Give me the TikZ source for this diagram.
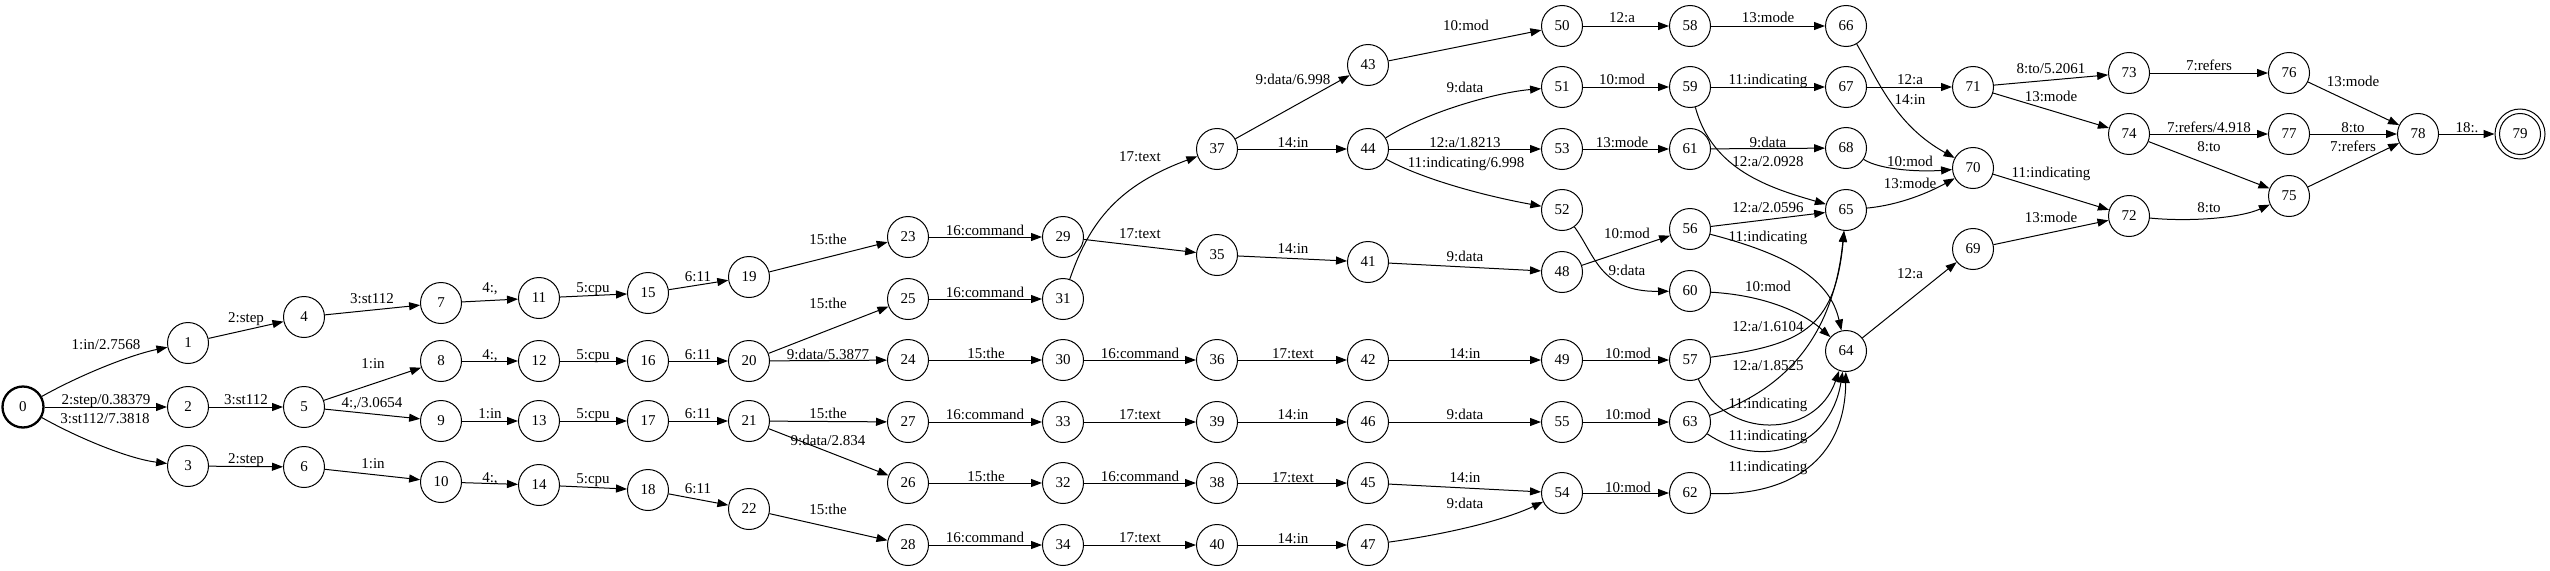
\documentclass[tikz,border=0pt]{standalone}
\usepackage{fontspec}
\setmainfont{Liberation Serif}
\usetikzlibrary{arrows.meta}
\begin{document}
\begin{tikzpicture}[x=1pt,y=-1pt,
  st/.style={circle,draw,line width=1pt,minimum size=41pt,inner sep=0pt,font=\fontsize{15}{18}\selectfont},
  edg/.style={line width=1pt,-{Triangle[length=11pt,width=8pt]}},
  lbl/.style={anchor=base,inner sep=0pt,font=\fontsize{15}{18}\selectfont}]
\useasboundingbox (0,0) rectangle (2550,570);
% states
\node[st,line width=2.3pt] (0) at (23,407) {0};
\foreach \n/\x/\y in {1/188/343,2/188/407,3/188/466,4/304/317,5/304/407,6/304/467,
  7/441/303,8/441/361,9/441/421,10/441/482,11/539/298,12/539/361,13/539/421,14/539/485,
  15/648/293,16/648/361,17/648/421,18/648/490,19/749/277,20/749/361,21/749/421,22/749/509,
  23/908/237,25/908/299,24/908/360,27/908/422,26/908/483,28/908/545,
  29/1063/237,31/1063/299,30/1063/360,33/1063/422,32/1063/483,34/1063/545,
  37/1217/149,35/1217/255,36/1217/360,39/1217/422,38/1217/483,40/1217/545,
  43/1368/65,44/1368/149,41/1368/262,42/1368/360,46/1368/422,45/1368/483,47/1368/545,
  50/1562/26,51/1562/87,53/1562/149,52/1562/210,48/1562/272,49/1562/360,55/1562/422,54/1562/493,
  58/1690/26,59/1690/87,61/1690/149,56/1690/229,60/1690/291,57/1690/360,63/1690/422,62/1690/493,
  66/1846/26,67/1846/87,68/1846/148,65/1846/210,64/1846/351,
  71/1973/87,70/1973/168,69/1973/249,73/2129/73,74/2129/134,72/2129/216,
  76/2289/73,77/2289/134,75/2289/196,78/2418/134}
  \node[st] (\n) at (\x,\y) {\n};
\node[st,minimum size=50pt] (79) at (2520,134) {79};
\draw[line width=1pt] (79.center) circle[radius=20.5pt];
% straight transitions
\foreach \a/\b in {0/2,1/4,2/5,3/6,4/7,5/8,5/9,6/10,7/11,8/12,9/13,10/14,11/15,12/16,13/17,14/18,
  15/19,16/20,17/21,18/22,19/23,20/25,20/24,21/27,21/26,22/28,23/29,25/31,24/30,27/33,26/32,28/34,
  29/35,30/36,33/39,32/38,34/40,37/43,37/44,35/41,36/42,39/46,38/45,40/47,43/50,44/53,41/48,42/49,
  46/55,45/54,50/58,51/59,53/61,48/56,49/57,55/63,54/62,58/66,59/67,61/68,56/65,67/71,71/73,71/74,
  70/72,69/72,64/69,73/76,74/77,74/75,76/78,77/78,75/78,78/79}
  \draw[edg] (\a) -- (\b);
% curved transitions
\draw[edg] (0) .. controls (80,375) and (130,355) .. (1);
\draw[edg] (0) .. controls (80,439) and (130,459) .. (3);
\draw[edg] (31) .. controls (1090,220) and (1120,185) .. (37);
\draw[edg] (44) .. controls (1430,110) and (1500,92) .. (51);
\draw[edg] (44) .. controls (1420,178) and (1480,195) .. (52);
\draw[edg] (52) .. controls (1595,255) and (1600,292) .. (60);
\draw[edg] (47) .. controls (1440,535) and (1500,522) .. (54);
\draw[edg] (59) .. controls (1712,170) and (1770,188) .. (65);
\draw[edg] (56) .. controls (1790,255) and (1830,280) .. (64);
\draw[edg] (60) .. controls (1760,295) and (1800,310) .. (64);
\draw[edg] (57) .. controls (1800,345) and (1835,330) .. (65);
\draw[edg] (63) .. controls (1800,385) and (1835,320) .. (65);
\draw[edg] (57) .. controls (1725,440) and (1815,440) .. (64);
\draw[edg] (63) .. controls (1760,470) and (1830,450) .. (64);
\draw[edg] (62) .. controls (1790,496) and (1845,460) .. (64);
\draw[edg] (66) .. controls (1878,80) and (1895,125) .. (70);
\draw[edg] (68) .. controls (1880,170) and (1920,172) .. (70);
\draw[edg] (65) .. controls (1900,205) and (1930,192) .. (70);
\draw[edg] (72) .. controls (2190,222) and (2240,218) .. (75);
% labels
\node[lbl] (L0-1) at (106,349) {1:in/2.7568};
\node[lbl] (L0-2) at (106,404) {2:step/0.38379};
\node[lbl] (L0-3) at (105,423) {3:st112/7.3818};
\node[lbl] (L1-4) at (246,322) {2:step};
\node[lbl] (L2-5) at (246,404) {3:st112};
\node[lbl] (L3-6) at (246,463) {2:step};
\node[lbl] (L4-7) at (372,303) {3:st112};
\node[lbl] (L5-8) at (373,368) {1:in};
\node[lbl] (L5-9) at (372,407) {4:,/3.0654};
\node[lbl] (L6-10) at (373,468) {1:in};
\node[lbl] (L7-11) at (490,292) {4:,};
\node[lbl] (L8-12) at (490,359) {4:,};
\node[lbl] (L9-13) at (490,418) {1:in};
\node[lbl] (L10-14) at (490,482) {4:,};
\node[lbl] (L11-15) at (593,292) {5:cpu};
\node[lbl] (L12-16) at (593,359) {5:cpu};
\node[lbl] (L13-17) at (593,418) {5:cpu};
\node[lbl] (L14-18) at (593,483) {5:cpu};
\node[lbl] (L15-19) at (698,281) {6:11};
\node[lbl] (L16-20) at (698,359) {6:11};
\node[lbl] (L17-21) at (698,418) {6:11};
\node[lbl] (L18-22) at (698,493) {6:11};
\node[lbl] (L19-23) at (828,244) {15:the};
\node[lbl] (L20-25) at (828,308) {15:the};
\node[lbl] (L20-24) at (828,359) {9:data/5.3877};
\node[lbl] (L21-27) at (828,418) {15:the};
\node[lbl] (L21-26) at (828,445) {9:data/2.834};
\node[lbl] (L22-28) at (828,514) {15:the};
\node[lbl] (L23-29) at (985,235) {16:command};
\node[lbl] (L25-31) at (985,297) {16:command};
\node[lbl] (L24-30) at (986,358) {15:the};
\node[lbl] (L27-33) at (985,419) {16:command};
\node[lbl] (L26-32) at (986,481) {15:the};
\node[lbl] (L28-34) at (985,542) {16:command};
\node[lbl] (L31-37) at (1140,161) {17:text};
\node[lbl] (L29-35) at (1140,238) {17:text};
\node[lbl] (L30-36) at (1140,358) {16:command};
\node[lbl] (L33-39) at (1140,419) {17:text};
\node[lbl] (L32-38) at (1140,481) {16:command};
\node[lbl] (L34-40) at (1140,542) {17:text};
\node[lbl] (L37-43) at (1293,84) {9:data/6.998};
\node[lbl] (L37-44) at (1293,147) {14:in};
\node[lbl] (L35-41) at (1293,253) {14:in};
\node[lbl] (L36-42) at (1293,358) {17:text};
\node[lbl] (L39-46) at (1293,419) {14:in};
\node[lbl] (L38-45) at (1293,482) {17:text};
\node[lbl] (L40-47) at (1293,543) {14:in};
\node[lbl] (L43-50) at (1466,30) {10:mod};
\node[lbl] (L44-51) at (1465,92) {9:data};
\node[lbl] (L44-53) at (1465,147) {12:a/1.8213};
\node[lbl] (L44-52) at (1466,167) {11:indicating/6.998};
\node[lbl] (L41-48) at (1465,261) {9:data};
\node[lbl] (L42-49) at (1465,358) {14:in};
\node[lbl] (L46-55) at (1465,419) {9:data};
\node[lbl] (L45-54) at (1465,482) {14:in};
\node[lbl] (L47-54) at (1465,508) {9:data};
\node[lbl] (L50-58) at (1622,23) {12:a};
\node[lbl] (L51-59) at (1622,84) {10:mod};
\node[lbl] (L53-61) at (1622,147) {13:mode};
\node[lbl] (L48-56) at (1627,238) {10:mod};
\node[lbl] (L52-60) at (1627,275) {9:data};
\node[lbl] (L49-57) at (1628,358) {10:mod};
\node[lbl] (L55-63) at (1628,419) {10:mod};
\node[lbl] (L54-62) at (1628,492) {10:mod};
\node[lbl] (L58-66) at (1768,23) {13:mode};
\node[lbl] (L59-67) at (1768,84) {11:indicating};
\node[lbl] (L61-68) at (1768,147) {9:data};
\node[lbl] (L59-65) at (1768,166) {12:a/2.0928};
\node[lbl] (L56-65) at (1768,212) {12:a/2.0596};
\node[lbl] (L56-64) at (1768,241) {11:indicating};
\node[lbl] (L60-64) at (1768,291) {10:mod};
\node[lbl] (L57-65) at (1768,331) {12:a/1.6104};
\node[lbl] (L63-65) at (1768,370) {12:a/1.8525};
\node[lbl] (L57-64) at (1768,408) {11:indicating};
\node[lbl] (L63-64) at (1768,440) {11:indicating};
\node[lbl] (L62-64) at (1768,471) {11:indicating};
\node[lbl] (L67-71) at (1910,84) {12:a};
\node[lbl] (L66-70) at (1910,104) {14:in};
\node[lbl] (L68-70) at (1910,166) {10:mod};
\node[lbl] (L65-70) at (1910,188) {13:mode};
\node[lbl] (L64-69) at (1910,278) {12:a};
\node[lbl] (L71-73) at (2051,73) {8:to/5.2061};
\node[lbl] (L71-74) at (2051,101) {13:mode};
\node[lbl] (L70-72) at (2051,177) {11:indicating};
\node[lbl] (L69-72) at (2051,222) {13:mode};
\node[lbl] (L73-76) at (2209,70) {7:refers};
\node[lbl] (L74-77) at (2209,132) {7:refers/4.918};
\node[lbl] (L74-75) at (2209,151) {8:to};
\node[lbl] (L72-75) at (2209,212) {8:to};
\node[lbl] (L76-78) at (2353,86) {13:mode};
\node[lbl] (L77-78) at (2353,132) {8:to};
\node[lbl] (L75-78) at (2353,151) {7:refers};
\node[lbl] (L78-79) at (2467,132) {18:.};
\end{tikzpicture}
\end{document}
